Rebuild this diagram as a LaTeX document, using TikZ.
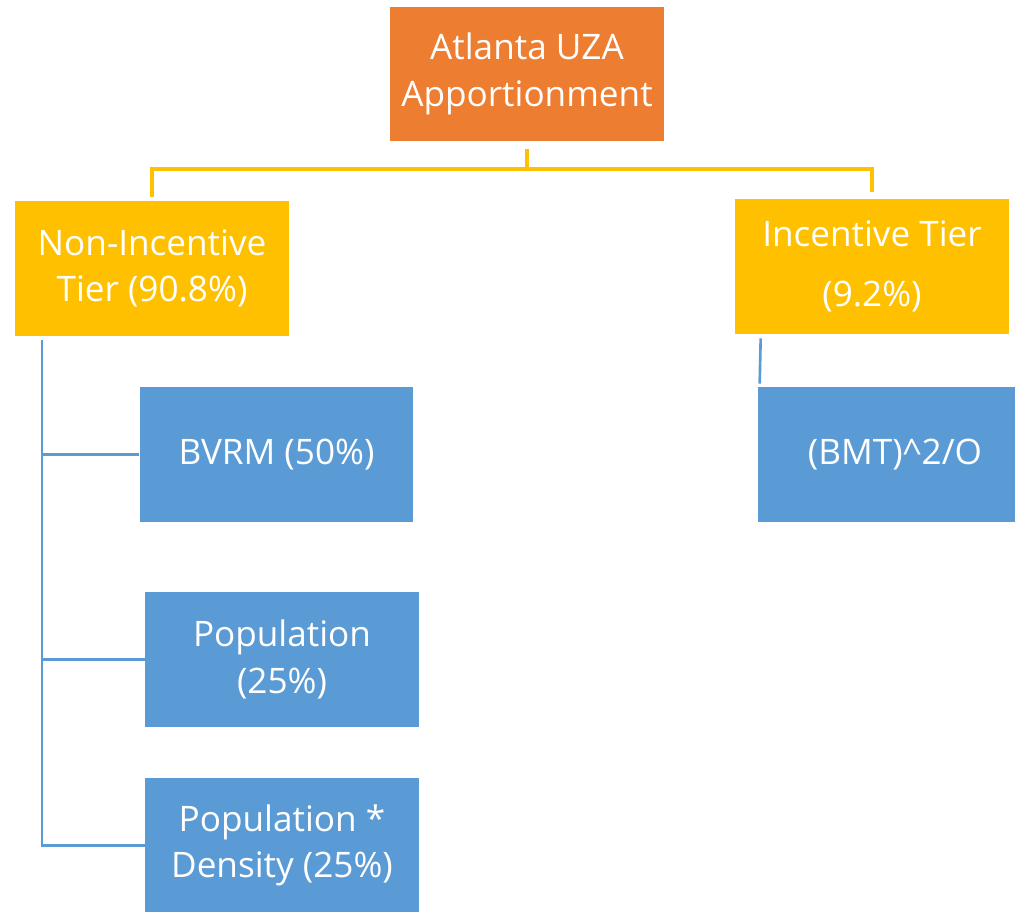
\documentclass[tikz,border=0pt]{standalone}
\usepackage{fontspec}
\setmainfont{Open Sans}
\usepackage{tikz}

\definecolor{uzaorange}{HTML}{ED7D31}
\definecolor{tiergold}{HTML}{FFC000}
\definecolor{factorblue}{HTML}{5B9BD5}

\begin{document}
\begin{tikzpicture}[x=0.02cm,y=-0.02cm,
			box/.style={rectangle, minimum width=5.48cm, minimum height=2.7cm, inner sep=0pt,
				text=white, align=center, font=\fontsize{20}{26.5}\selectfont},
			topbox/.style={box, fill=uzaorange},
			tierbox/.style={box, fill=tiergold},
			factorbox/.style={box, fill=factorblue},
			goldlink/.style={draw=tiergold, line width=2pt},
			bluelink/.style={draw=factorblue, line width=1.5pt}]
			\useasboundingbox (0,0) rectangle (1015,912);
			\node[topbox] (apport) at (527,74) {Atlanta UZA\\Apportionment};
			\node[tierbox] (nonincentive) at (152,268.5) {Non-Incentive\\Tier (90.8\%)};
			\node[tierbox, font=\fontsize{20}{34}\selectfont] (incentive) at (872,266.5) {Incentive Tier\\(9.2\%)};
			\node[factorbox] (bvrm) at (276.5,454.5) {BVRM (50\%)};
			\node[factorbox] (population) at (282,659.5) {Population\\(25\%)};
			\node[factorbox] (popdensity) at (282,845.5) {Population *\\Density (25\%)};
			\node[factorbox] (bmt) at (895,454.5) {(BMT)\^{}2/O};
			% gold tree
			\coordinate (split) at (527,169);
			\draw[goldlink] ([yshift=-4]apport.south) -- (split) -| ([yshift=2]nonincentive.north);
			\draw[goldlink] (split) -| ([yshift=4]incentive.north);
			% blue branches
			\coordinate (trunk) at (42,340);
			\draw[bluelink] (trunk) |- (bvrm.west);
			\draw[bluelink] (trunk) |- (population.west);
			\draw[bluelink] (trunk) |- (popdensity.west);
			\draw[bluelink] ([shift={(26,4)}]incentive.south west) -- ([shift={(2,-3)}]bmt.north west);
			\end{tikzpicture}
\end{document}
